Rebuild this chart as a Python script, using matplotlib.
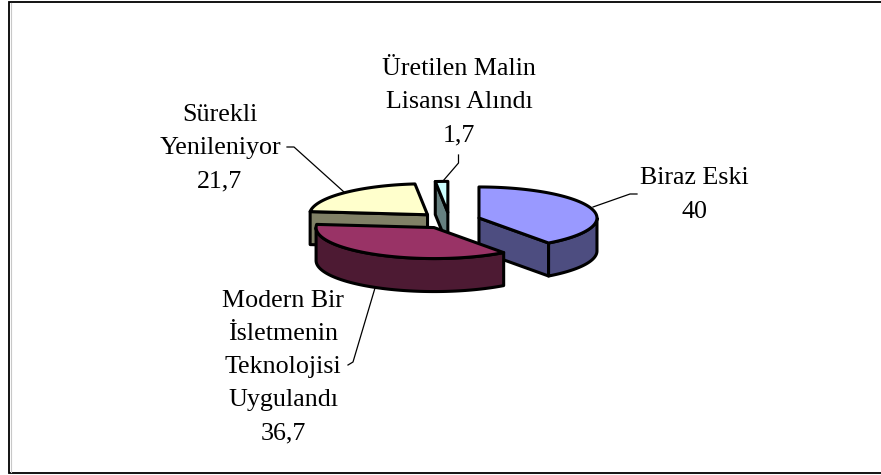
import numpy as np
import matplotlib
matplotlib.use("Agg")
import matplotlib.pyplot as plt
from matplotlib.patches import Polygon, Rectangle

# dilimler saat yönünde, tepeden başlar
labels = ["Biraz Eski", "Modern Bir\nİsletmenin\nTeknolojisi\nUygulandı", "Sürekli\nYenileniyor", "Üretilen Malin\nLisansı Alındı"]
values = [40, 36.7, 21.7, 1.7]
value_text = ["40", "36,7", "21,7", "1,7"]
top_colors = ["#9999FF", "#993366", "#FFFFCC", "#CCFFFF"]
wall_colors = ["#4D4D80", "#4D1A33", "#808066", "#668080"]

# pasta geometrisi (piksel)
cx, cy = 449.5, 220.5
rx, ry = 118, 31
depth = 33
explode = 31

label_pos = [(694, 195), (283, 367), (220, 148), (459, 102)]
leaders = [
    [(637, 194), (630, 194), (593, 207)],
    [(348, 365), (353, 362), (375, 288)],
    [(287, 147), (294, 147), (344, 192)],
    [(458.5, 155), (458.5, 163), (443, 181)],
]


def pt(cen, a):
    return (cen[0] + rx * np.sin(a), cen[1] - ry * np.cos(a))


def draw_slice(ax, cen, a1, a2, top, wall):
    lw = 2.2
    # kesik yüzler
    faces = []
    if np.pi / 2 < a2 <= 1.5 * np.pi:
        faces.append(a2)
    if a1 >= 1.5 * np.pi:
        faces.append(a1)
    for a in faces:
        p = pt(cen, a)
        quad = [cen, p, (p[0], p[1] + depth), (cen[0], cen[1] + depth)]
        ax.add_patch(Polygon(quad, closed=True, fc=wall, ec="black", lw=lw, joinstyle="round"))
    # dış duvar, sadece önde kalan kısım
    w1, w2 = max(a1, np.pi / 2), min(a2, 1.5 * np.pi)
    if w2 > w1:
        t = np.linspace(w1, w2, 80)
        xs = cen[0] + rx * np.sin(t)
        ys = cen[1] - ry * np.cos(t)
        outer = list(zip(xs, ys)) + list(zip(xs[::-1], ys[::-1] + depth))
        ax.add_patch(Polygon(outer, closed=True, fc=wall, ec="black", lw=lw, joinstyle="round"))
    # üst yüz
    t = np.linspace(a1, a2, 120)
    poly = [cen] + list(zip(cen[0] + rx * np.sin(t), cen[1] - ry * np.cos(t)))
    ax.add_patch(Polygon(poly, closed=True, fc=top, ec="black", lw=lw, joinstyle="round"))


fig = plt.figure(figsize=(8.81, 4.75), dpi=100)
ax = fig.add_axes([0, 0, 1, 1])
ax.set_xlim(0, 881)
ax.set_ylim(475, 0)
ax.axis("off")

# çerçeve
ax.add_patch(Rectangle((8.5, 2), 900, 471, fc="white", ec="black", lw=1.3))
ax.plot([10.5, 10.5], [3, 472], color="#c8c8c8", lw=0.8)
ax.plot([9, 881], [474.5, 474.5], color="#c8c8c8", lw=0.8)

angles = np.cumsum([0] + values) / sum(values) * 2 * np.pi
slices = []
for i in range(len(values)):
    a1, a2 = angles[i], angles[i + 1]
    mid = (a1 + a2) / 2
    cen = (cx + explode * np.sin(mid), cy - explode * ry / rx * np.cos(mid))
    slices.append((cen, a1, a2, top_colors[i], wall_colors[i]))

# arkadan öne çizim sırası
for i in [2, 3, 0, 1]:
    draw_slice(ax, *slices[i])

for i in range(len(values)):
    xs, ys = zip(*leaders[i])
    ax.plot(xs, ys, color="black", lw=0.9, zorder=1)
    ax.text(label_pos[i][0], label_pos[i][1], labels[i] + "\n" + value_text[i],
            ha="center", va="center", ma="center", family="Liberation Serif",
            fontsize=18.7, linespacing=1.65, color="black")

fig.savefig("out.png", dpi=100)
